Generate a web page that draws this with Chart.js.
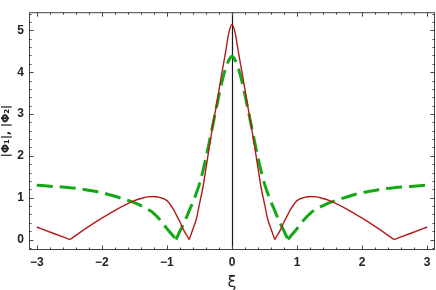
<!DOCTYPE html>
<html><head><meta charset="utf-8">
<script src="https://cdn.jsdelivr.net/npm/chart.js@4"></script>
<style>html,body{margin:0;padding:0;background:#fff}#wrap{width:436px;height:290px}</style>
</head><body><div id="wrap"><canvas id="c" width="436" height="290"></canvas></div>
<script>
const xi = [-3, -2.75, -2.49, -2.25, -2, -1.75, -1.5, -1.4, -1.3, -1.22, -1.1, -1, -0.9, -0.86, -0.8, -0.75, -0.7, -0.657, -0.6, -0.55, -0.5, -0.45, -0.4, -0.35, -0.3, -0.25, -0.2, -0.15, -0.1, -0.05, 0,
            0.05, 0.1, 0.15, 0.2, 0.25, 0.3, 0.35, 0.4, 0.45, 0.5, 0.55, 0.6, 0.657, 0.7, 0.75, 0.8, 0.86, 0.9, 1, 1.1, 1.22, 1.3, 1.4, 1.5, 1.75, 2, 2.25, 2.49, 2.75, 3];
const phi1 = [0.30, 0.15, 0.0, 0.26, 0.51, 0.74, 0.93, 0.98, 1.02, 1.03, 1.00, 0.93, 0.72, 0.60, 0.42, 0.25, 0.11, 0.0, 0.25, 0.48, 0.85, 1.22, 1.70, 2.20, 2.68, 3.12, 3.58, 4.03, 4.47, 4.93, 5.14,
              4.93, 4.47, 4.03, 3.58, 3.12, 2.68, 2.20, 1.70, 1.22, 0.85, 0.48, 0.25, 0.0, 0.11, 0.25, 0.42, 0.60, 0.72, 0.93, 1.00, 1.03, 1.02, 0.98, 0.93, 0.74, 0.51, 0.26, 0.0, 0.15, 0.30];
const phi2 = [1.30, 1.27, 1.24, 1.19, 1.12, 1.01, 0.88, 0.81, 0.73, 0.65, 0.46, 0.26, 0.08, 0.0, 0.20, 0.36, 0.53, 0.69, 0.90, 1.10, 1.33, 1.62, 1.95, 2.32, 2.70, 3.08, 3.45, 3.80, 4.08, 4.28, 4.38,
              4.28, 4.08, 3.80, 3.45, 3.08, 2.70, 2.32, 1.95, 1.62, 1.33, 1.10, 0.90, 0.69, 0.53, 0.36, 0.20, 0.0, 0.08, 0.26, 0.46, 0.65, 0.73, 0.81, 0.88, 1.01, 1.12, 1.19, 1.24, 1.27, 1.30];
const xTicks = [-3, -2, -1, 0, 1, 2, 3];
const xTickLabels = ['−3', '−2', '−1', '0', '1', '2', '3'];
const yTicks = [0, 1, 2, 3, 4, 5];
const yTickLabels = ['0', '1', '2', '3', '4', '5'];
const xTitle = 'ξ';
const yTitle = '|Φ₁|, |Φ₂|';

// split a series at its zeros (cusps) so each smooth piece is interpolated separately
function pieces(vals) {
  const out = []; let cur = [];
  vals.forEach((v, i) => {
    cur.push({x: xi[i], y: v});
    if (v === 0 && i > 0 && i < vals.length - 1) { out.push(cur); cur = [{x: xi[i], y: v}]; }
  });
  out.push(cur);
  return out;
}

const framePlugin = {
  id: 'frame',
  beforeDatasetsDraw(chart) {
    const {ctx, chartArea: a, scales: {x}} = chart;
    ctx.save();
    ctx.strokeStyle = '#1a1a1a'; ctx.lineWidth = 1.2;
    const p = Math.round(x.getPixelForValue(0)) + 0.5;
    ctx.beginPath(); ctx.moveTo(p, a.top); ctx.lineTo(p, a.bottom); ctx.stroke();
    ctx.restore();
  },
  afterDraw(chart) {
    const {ctx, chartArea: a, scales: {x, y}} = chart;
    ctx.save();
    ctx.strokeStyle = '#444'; ctx.lineWidth = 1;
    ctx.strokeRect(a.left + 0.5, a.top + 0.5, a.right - a.left - 1, a.bottom - a.top - 1);
    ctx.beginPath();
    for (let i = -16; i <= 16; i++) {
      const v = i * 0.2;
      if (v < x.min || v > x.max) continue;
      const p = Math.round(x.getPixelForValue(v)) + 0.5;
      const L = (i % 5 === 0) ? 4.5 : 2.5;
      ctx.moveTo(p, a.bottom); ctx.lineTo(p, a.bottom - L);
      ctx.moveTo(p, a.top); ctx.lineTo(p, a.top + L);
    }
    for (let i = -1; i <= 28; i++) {
      const v = i * 0.2;
      if (v < y.min || v > y.max) continue;
      const p = Math.round(y.getPixelForValue(v)) + 0.5;
      const L = (i % 5 === 0) ? 4.5 : 2.5;
      ctx.moveTo(a.left, p); ctx.lineTo(a.left + L, p);
      ctx.moveTo(a.right, p); ctx.lineTo(a.right - L, p);
    }
    ctx.stroke();
    ctx.restore();
  }
};

const tickFont = {family: 'Liberation Sans, Arial, sans-serif', size: 12, weight: 'bold'};
const redStyle = {showLine: true, borderColor: '#b31b1b', borderWidth: 1.4, pointRadius: 0, cubicInterpolationMode: 'monotone', fill: false};
const greenStyle = {showLine: true, borderColor: '#14a814', borderWidth: 3, borderDash: [16, 7], pointRadius: 0, cubicInterpolationMode: 'monotone', fill: false};

const datasets = [
  ...pieces(phi1).map(d => Object.assign({label: '|Φ1|', data: d}, redStyle)),
  ...pieces(phi2).map(d => Object.assign({label: '|Φ2|', data: d}, greenStyle))
];

new Chart(document.getElementById('c'), {
  type: 'scatter',
  data: {datasets},
  options: {
    responsive: false, animation: false, devicePixelRatio: 1,
    layout: {padding: {top: 1, right: 1, left: 0, bottom: 0}},
    plugins: {legend: {display: false}, tooltip: {enabled: false}},
    scales: {
      x: {
        type: 'linear', position: 'bottom', min: -3.12, max: 3.12,
        grid: {display: false, drawTicks: false}, border: {display: false},
        afterBuildTicks: s => { s.ticks = xTicks.map(v => ({value: v})); },
        afterFit: s => { s.height = 40; },
        ticks: {font: tickFont, color: '#222', padding: 5, maxRotation: 0,
          callback: (v) => xTickLabels[xTicks.indexOf(v)]},
        title: {display: true, text: xTitle, font: {family: 'DejaVu Sans', size: 16}, color: '#222', padding: {top: 0, bottom: -2}}
      },
      y: {
        type: 'linear', min: -0.25, max: 5.434,
        grid: {display: false, drawTicks: false}, border: {display: false},
        afterBuildTicks: s => { s.ticks = yTicks.map(v => ({value: v})); },
        afterFit: s => { s.width = 29; },
        ticks: {font: tickFont, color: '#222', padding: 5,
          callback: (v) => yTickLabels[yTicks.indexOf(v)]},
        title: {display: true, text: yTitle, font: {family: 'DejaVu Sans', size: 11, weight: 'bold'}, color: '#222', padding: {top: 0, bottom: 0}}
      }
    }
  },
  plugins: [framePlugin]
});
</script>
</body></html>
